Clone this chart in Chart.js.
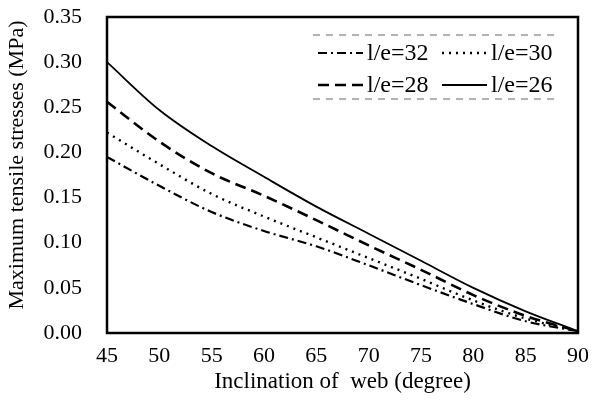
<!DOCTYPE html>
<html>
<head>
<meta charset="utf-8">
<script src="https://cdn.jsdelivr.net/npm/chart.js@4/dist/chart.umd.min.js"></script>
<style>
html,body{margin:0;padding:0;background:#fff;}
#wrap{width:593px;height:414px;position:relative;}
</style>
</head>
<body>
<div id="wrap"><canvas id="c" width="593" height="414"></canvas></div>
<script>
const angles = [45, 50, 55, 60, 65, 70, 75, 80, 85, 90];
const le26 = [0.300, 0.247, 0.207, 0.173, 0.140, 0.110, 0.080, 0.050, 0.024, 0.002];
const le28 = [0.256, 0.212, 0.177, 0.152, 0.125, 0.097, 0.070, 0.042, 0.019, 0.002];
const le30 = [0.222, 0.187, 0.154, 0.129, 0.106, 0.083, 0.060, 0.036, 0.016, 0.002];
const le32 = [0.195, 0.163, 0.134, 0.113, 0.096, 0.075, 0.053, 0.032, 0.013, 0.002];
const yTicks = [0, 0.05, 0.10, 0.15, 0.20, 0.25, 0.30, 0.35];
const xLabel = 'Inclination of  web (degree)';
const yLabel = 'Maximum tensile stresses (MPa)';

const FONT = '"Liberation Serif", "Times New Roman", serif';
const pts = arr => angles.map((a, i) => ({x: a, y: arr[i]}));

const series = [
  {label: 'l/e=32', data: le32, dash: [9, 4, 2, 4], width: 2.2},
  {label: 'l/e=30', data: le30, dash: [2, 5], width: 2.4},
  {label: 'l/e=28', data: le28, dash: [11, 6], width: 2.6},
  {label: 'l/e=26', data: le26, dash: [], width: 1.8}
];

const frame = {
  id: 'frame',
  afterDraw(chart) {
    const {ctx} = chart;
    ctx.save();
    ctx.translate(17, 165);
    ctx.rotate(-Math.PI / 2);
    ctx.font = '22px ' + FONT;
    ctx.fillStyle = '#000';
    ctx.textAlign = 'center';
    ctx.textBaseline = 'middle';
    ctx.fillText(yLabel, 0, 0);
    ctx.restore();
  },
  afterDatasetsDraw(chart) {
    const {ctx, chartArea: a} = chart;
    ctx.save();
    ctx.strokeStyle = '#000';
    ctx.lineWidth = 2.5;
    ctx.setLineDash([]);
    ctx.strokeRect(a.left, a.top, a.right - a.left, a.bottom - a.top);
    // legend box
    const bx = 313, by = 35, bw = 245, bh = 64;
    ctx.fillStyle = '#fff';
    ctx.fillRect(bx, by, bw, bh);
    ctx.strokeStyle = '#999';
    ctx.lineWidth = 1.5;
    ctx.setLineDash([7, 6]);
    ctx.beginPath();
    ctx.moveTo(bx, by); ctx.lineTo(bx + bw, by);
    ctx.moveTo(bx, by + bh); ctx.lineTo(bx + bw, by + bh);
    ctx.stroke();
    const cells = [
      {s: series[0], x: 318, y: 53},
      {s: series[1], x: 442, y: 53},
      {s: series[2], x: 318, y: 85},
      {s: series[3], x: 442, y: 85}
    ];
    ctx.font = '24px ' + FONT;
    ctx.textBaseline = 'middle';
    ctx.textAlign = 'left';
    cells.forEach(c => {
      ctx.strokeStyle = '#000';
      ctx.lineWidth = c.s.width;
      ctx.setLineDash(c.s.dash);
      ctx.beginPath();
      ctx.moveTo(c.x, c.y);
      ctx.lineTo(c.x + 45, c.y);
      ctx.stroke();
      ctx.fillStyle = '#000';
      ctx.fillText(c.s.label, c.x + 49, c.y + 1);
    });
    ctx.restore();
  }
};

new Chart(document.getElementById('c'), {
  type: 'line',
  data: {
    datasets: series.map(s => ({
      label: s.label,
      data: pts(s.data),
      borderColor: '#000',
      borderWidth: s.width,
      borderDash: s.dash,
      pointRadius: 0,
      fill: false,
      cubicInterpolationMode: 'monotone'
    }))
  },
  options: {
    responsive: false,
    animation: false,
    devicePixelRatio: 1,
    layout: {padding: {top: 17, right: 15, left: 0, bottom: 0}},
    plugins: {legend: {display: false}, tooltip: {enabled: false}},
    scales: {
      x: {
        type: 'linear', min: 45, max: 90,
        afterFit(s) { s.height = 81; s.paddingLeft = 0; s.paddingRight = 0; },
        grid: {display: false, drawTicks: false},
        border: {display: false},
        ticks: {stepSize: 5, padding: 10, color: '#000', font: {family: FONT, size: 22}},
        title: {display: true, text: xLabel, color: '#000', font: {family: FONT, size: 23}, padding: {top: 0, bottom: 18}}
      },
      y: {
        type: 'linear', min: 0, max: 0.35,
        afterFit(s) { s.width = 107; s.paddingTop = 0; s.paddingBottom = 0; },
        afterBuildTicks(s) { s.ticks = yTicks.map(v => ({value: v})); },
        grid: {display: false, drawTicks: false},
        border: {display: false},
        ticks: {padding: 25, color: '#000', font: {family: FONT, size: 22},
          callback: v => v.toFixed(2)},
        title: {display: false}
      }
    }
  },
  plugins: [frame]
});
</script>
</body>
</html>
